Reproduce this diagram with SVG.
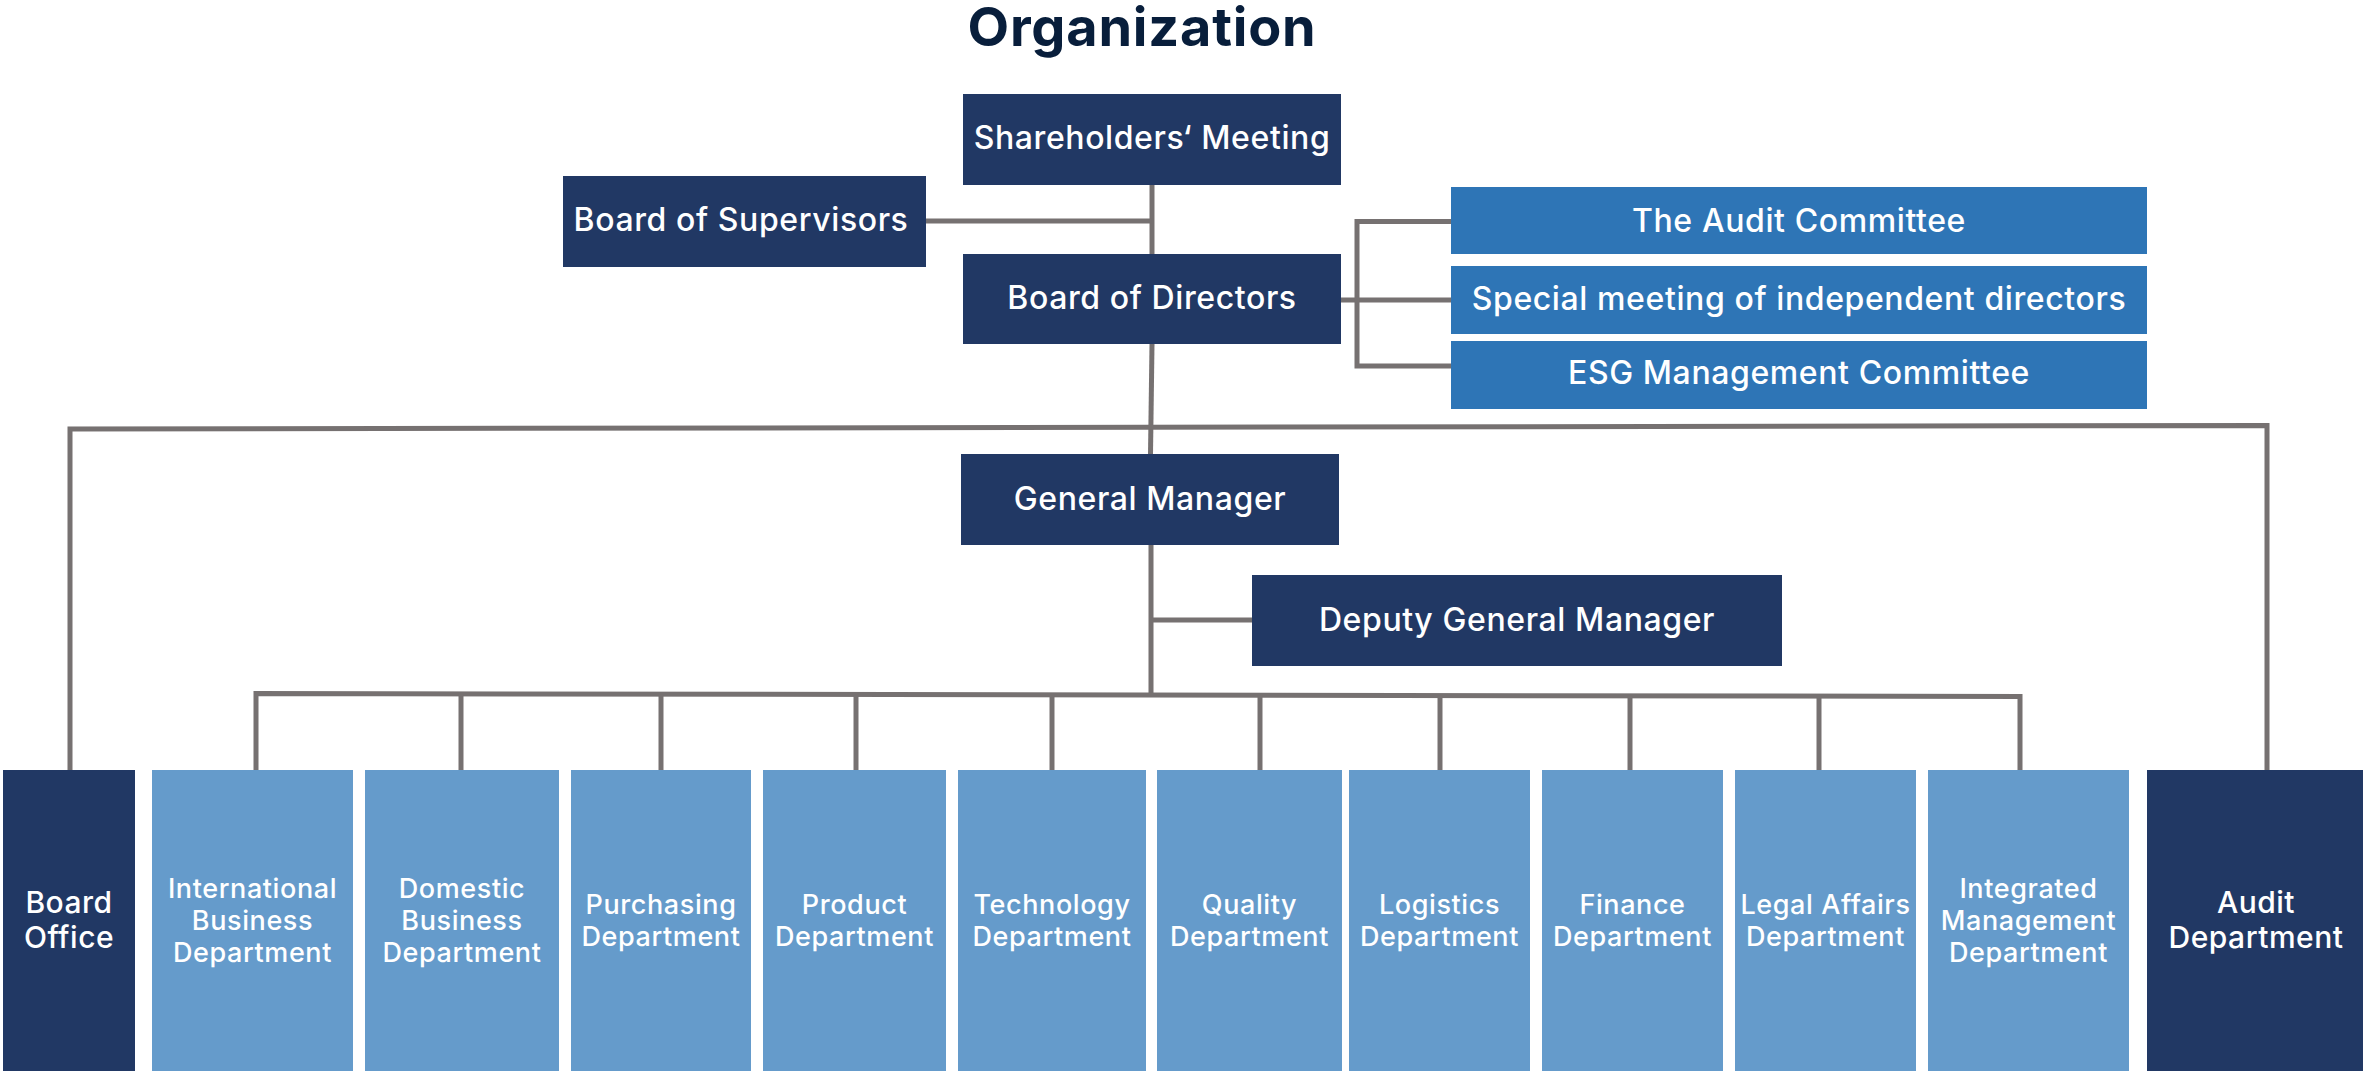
<svg xmlns="http://www.w3.org/2000/svg" width="2363" height="1071" viewBox="0 0 2363 1071">
  <style>
    .dark { fill: #213864; }
    .mid { fill: #2E75B6; }
    .light { fill: #659BCB; }
    text { font-family: Inter, "Open Sans", "Liberation Sans", sans-serif; fill: #FFFFFF; text-anchor: middle; }
    .title { font-size: 54px; font-weight: 700; letter-spacing: 0.8px; fill: #081E3B; }
    .top { font-size: 32px; font-weight: 500; letter-spacing: 0.6px; }
    .dept { font-size: 27px; font-weight: 500; letter-spacing: 0.6px; }
    .side { font-size: 30px; font-weight: 500; letter-spacing: 0.5px; }
    .conn { stroke: #767171; stroke-width: 5; fill: none; stroke-linecap: butt; stroke-linejoin: miter; }
  </style>

  <text class="title" x="1142" y="46">Organization</text>

  <!-- connectors -->
  <g id="connectors" class="conn">
    <!-- shareholders to board of directors, supervisors branch -->
    <path d="M1152 185 V254"/>
    <path d="M926 221 H1152"/>
    <!-- board of directors to committees -->
    <path d="M1341 300 H1451"/>
    <path d="M1451 221.5 H1357 V366 H1451"/>
    <!-- board of directors down to general manager -->
    <path d="M1152 344 L1150.5 454"/>
    <!-- board office / audit department span -->
    <path d="M70 770 V429 L2267 425.5 V770"/>
    <!-- general manager to deputy and departments -->
    <path d="M1151 545 V694"/>
    <path d="M1151 620 H1252"/>
    <path d="M256 771 V693.5 L2020 696.5 V776"/>
    <path d="M461 694 V772"/>
    <path d="M661 694.5 V772"/>
    <path d="M856 694.5 V772"/>
    <path d="M1052 695 V772"/>
    <path d="M1260 695 V774"/>
    <path d="M1440 695.5 V775"/>
    <path d="M1630 695.5 V775"/>
    <path d="M1819 696 V772"/>
  </g>

  <!-- governance -->
  <g id="shareholders-meeting">
    <rect class="dark" x="963" y="94" width="378" height="91"/>
    <text class="top" x="1152" y="149">Shareholders‘ Meeting</text>
  </g>
  <g id="board-of-supervisors">
    <rect class="dark" x="563" y="176" width="363" height="91"/>
    <text class="top" x="741" y="231">Board of Supervisors</text>
  </g>
  <g id="board-of-directors">
    <rect class="dark" x="963" y="254" width="378" height="90"/>
    <text class="top" x="1152" y="309">Board of Directors</text>
  </g>
  <g id="audit-committee">
    <rect class="mid" x="1451" y="187" width="696" height="67"/>
    <text class="top" x="1799" y="232">The Audit Committee</text>
  </g>
  <g id="independent-directors-meeting">
    <rect class="mid" x="1451" y="266" width="696" height="68"/>
    <text class="top" x="1799" y="310">Special meeting of independent directors</text>
  </g>
  <g id="esg-committee">
    <rect class="mid" x="1451" y="341" width="696" height="68"/>
    <text class="top" x="1799" y="384">ESG Management Committee</text>
  </g>

  <!-- management -->
  <g id="general-manager">
    <rect class="dark" x="961" y="454" width="378" height="91"/>
    <text class="top" x="1150" y="510">General Manager</text>
  </g>
  <g id="deputy-general-manager">
    <rect class="dark" x="1252" y="575" width="530" height="91"/>
    <text class="top" x="1517" y="631">Deputy General Manager</text>
  </g>

  <!-- departments -->
  <g id="board-office">
    <rect class="dark" x="3" y="770" width="132" height="301"/>
    <text class="side" x="69" y="913">Board</text>
    <text class="side" x="69" y="948">Office</text>
  </g>
  <g id="international-business">
    <rect class="light" x="152" y="770" width="201" height="301"/>
    <text class="dept" x="252.5" y="898">International</text>
    <text class="dept" x="252.5" y="930">Business</text>
    <text class="dept" x="252.5" y="962">Department</text>
  </g>
  <g id="domestic-business">
    <rect class="light" x="365" y="770" width="194" height="301"/>
    <text class="dept" x="462" y="898">Domestic</text>
    <text class="dept" x="462" y="930">Business</text>
    <text class="dept" x="462" y="962">Department</text>
  </g>
  <g id="purchasing">
    <rect class="light" x="571" y="770" width="180" height="301"/>
    <text class="dept" x="661" y="914">Purchasing</text>
    <text class="dept" x="661" y="946">Department</text>
  </g>
  <g id="product">
    <rect class="light" x="763" y="770" width="183" height="301"/>
    <text class="dept" x="854.5" y="914">Product</text>
    <text class="dept" x="854.5" y="946">Department</text>
  </g>
  <g id="technology">
    <rect class="light" x="958" y="770" width="188" height="301"/>
    <text class="dept" x="1052" y="914">Technology</text>
    <text class="dept" x="1052" y="946">Department</text>
  </g>
  <g id="quality">
    <rect class="light" x="1157" y="770" width="185" height="301"/>
    <text class="dept" x="1249.5" y="914">Quality</text>
    <text class="dept" x="1249.5" y="946">Department</text>
  </g>
  <g id="logistics">
    <rect class="light" x="1349" y="770" width="181" height="301"/>
    <text class="dept" x="1439.5" y="914">Logistics</text>
    <text class="dept" x="1439.5" y="946">Department</text>
  </g>
  <g id="finance">
    <rect class="light" x="1542" y="770" width="181" height="301"/>
    <text class="dept" x="1632.5" y="914">Finance</text>
    <text class="dept" x="1632.5" y="946">Department</text>
  </g>
  <g id="legal-affairs">
    <rect class="light" x="1735" y="770" width="181" height="301"/>
    <text class="dept" x="1825.5" y="914">Legal Affairs</text>
    <text class="dept" x="1825.5" y="946">Department</text>
  </g>
  <g id="integrated-management">
    <rect class="light" x="1928" y="770" width="201" height="301"/>
    <text class="dept" x="2028.5" y="898">Integrated</text>
    <text class="dept" x="2028.5" y="930">Management</text>
    <text class="dept" x="2028.5" y="962">Department</text>
  </g>
  <g id="audit-department">
    <rect class="dark" x="2147" y="770" width="216" height="301"/>
    <text class="side" x="2256" y="913">Audit</text>
    <text class="side" x="2256" y="948">Department</text>
  </g>
</svg>
